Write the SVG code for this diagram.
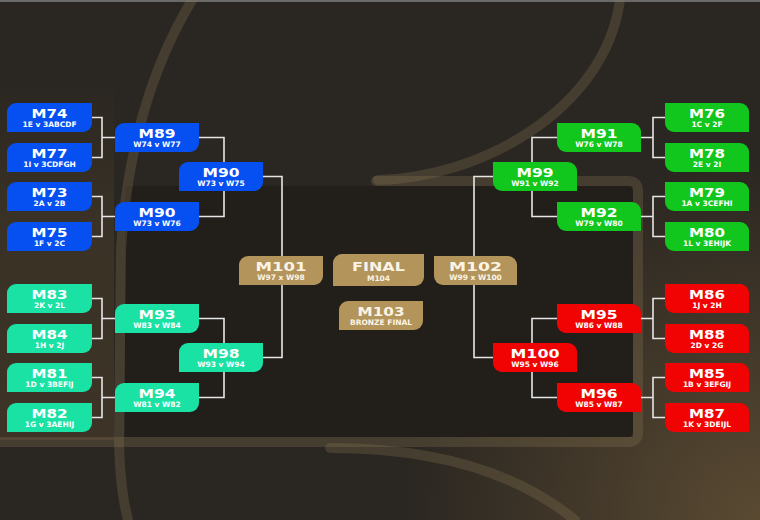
<svg xmlns="http://www.w3.org/2000/svg" width="760" height="520" viewBox="0 0 760 520">
<defs>
<radialGradient id="glowBR" cx="760" cy="520" r="360" gradientUnits="userSpaceOnUse">
<stop offset="0" stop-color="#5a4a32"/>
<stop offset="1" stop-color="#5a4a32" stop-opacity="0"/>
</radialGradient>
<linearGradient id="glowL" x1="0" y1="80" x2="0" y2="440" gradientUnits="userSpaceOnUse">
<stop offset="0" stop-color="#3a3226" stop-opacity="0"/>
<stop offset="0.4" stop-color="#3a3226"/>
<stop offset="1" stop-color="#3d3327"/>
</linearGradient>
<style>
.deco{fill:none;stroke:#8c7a55;stroke-opacity:0.28;stroke-width:10;stroke-linecap:round;stroke-linejoin:round}
.conn path{fill:none;stroke:#e6e6e6;stroke-width:1.6}
.node text{font-family:"DejaVu Sans","Liberation Sans",sans-serif;font-weight:bold;fill:#ffffff;text-anchor:middle}
.t{font-size:11.5px}
.tb{font-size:12.5px}
.s{font-size:7.5px}
.blue path{fill:#0650f2}
.teal path{fill:#19e2a4}
.green path{fill:#11c61d}
.red path{fill:#f20303}
.gold path{fill:#b3945b}
.gold text{fill:#fbf4e6}
</style>
</defs>
<rect width="760" height="520" fill="#2a2621"/>
<rect x="0" y="80" width="114" height="360" fill="url(#glowL)"/>
<rect width="760" height="520" fill="url(#glowBR)"/>
<rect x="125" y="186" width="508" height="251" fill="#221f1b"/>
<rect width="760" height="2" fill="#6a6a6a"/>
<g id="decoration">
<path class="deco" d="M192 0 C162 50 128 130 121 250 L119 440 Q120 490 128 520"/>
<path class="deco" d="M620 0 C605 110 480 178 378 180"/>
<path class="deco" d="M376 181 H628 Q638 181 638 191 V432 Q638 442 628 442 H0"/>
<path class="deco" d="M330 448 C440 448 520 475 575 520"/>
</g>
<g id="connectors" class="conn">
<path d="M92 117.5H102V157.5H92M102 137.5H115"/>
<path d="M92 196.5H102V236.5H92M102 216.5H115"/>
<path d="M199 137.5H224V216.5H199M224 176.5H230"/>
<path d="M263 176.5H282V270"/>
<path d="M92 298.5H102V338.5H92M102 318.5H115"/>
<path d="M92 377.5H102V417.5H92M102 397.5H115"/>
<path d="M199 318.5H224V397.5H199M224 357.5H230"/>
<path d="M263 357.5H282V270"/>
<path d="M665 117.5H653V157.5H665M653 137.5H641"/>
<path d="M665 196.5H653V236.5H665M653 216.5H641"/>
<path d="M557 137.5H532V216.5H557M532 176.5H525"/>
<path d="M493 176.5H474V270"/>
<path d="M665 298.5H653V338.5H665M653 318.5H641"/>
<path d="M665 377.5H653V417.5H665M653 397.5H641"/>
<path d="M557 318.5H532V397.5H557M532 357.5H525"/>
<path d="M493 357.5H474V270"/>
</g>
<g id="m74" class="node blue"><path d="M16 103H92V123A9 9 0 0 1 83 132H7V112A9 9 0 0 1 16 103Z"/><text class="t" x="49.5" y="117.5" textLength="36" lengthAdjust="spacingAndGlyphs">M74</text><text class="s" x="49.5" y="127">1E v 3ABCDF</text></g>
<g id="m77" class="node blue"><path d="M16 143H92V163A9 9 0 0 1 83 172H7V152A9 9 0 0 1 16 143Z"/><text class="t" x="49.5" y="157.5" textLength="36" lengthAdjust="spacingAndGlyphs">M77</text><text class="s" x="49.5" y="167">1I v 3CDFGH</text></g>
<g id="m73" class="node blue"><path d="M16 182H92V202A9 9 0 0 1 83 211H7V191A9 9 0 0 1 16 182Z"/><text class="t" x="49.5" y="196.5" textLength="36" lengthAdjust="spacingAndGlyphs">M73</text><text class="s" x="49.5" y="206">2A v 2B</text></g>
<g id="m75" class="node blue"><path d="M16 222H92V242A9 9 0 0 1 83 251H7V231A9 9 0 0 1 16 222Z"/><text class="t" x="49.5" y="236.5" textLength="36" lengthAdjust="spacingAndGlyphs">M75</text><text class="s" x="49.5" y="246">1F v 2C</text></g>
<g id="m89" class="node blue"><path d="M124 123H199V143A9 9 0 0 1 190 152H115V132A9 9 0 0 1 124 123Z"/><text class="t" x="157" y="137.5" textLength="37" lengthAdjust="spacingAndGlyphs">M89</text><text class="s" x="157" y="147">W74 v W77</text></g>
<g id="m90b" class="node blue"><path d="M124 202H199V222A9 9 0 0 1 190 231H115V211A9 9 0 0 1 124 202Z"/><text class="t" x="157" y="216.5" textLength="37" lengthAdjust="spacingAndGlyphs">M90</text><text class="s" x="157" y="226">W73 v W76</text></g>
<g id="m90" class="node blue"><path d="M188 162H263V182A9 9 0 0 1 254 191H179V171A9 9 0 0 1 188 162Z"/><text class="t" x="221" y="176.5" textLength="37" lengthAdjust="spacingAndGlyphs">M90</text><text class="s" x="221" y="186">W73 v W75</text></g>
<g id="m83" class="node teal"><path d="M16 284H92V304A9 9 0 0 1 83 313H7V293A9 9 0 0 1 16 284Z"/><text class="t" x="49.5" y="298.5" textLength="36" lengthAdjust="spacingAndGlyphs">M83</text><text class="s" x="49.5" y="308">2K v 2L</text></g>
<g id="m84" class="node teal"><path d="M16 324H92V344A9 9 0 0 1 83 353H7V333A9 9 0 0 1 16 324Z"/><text class="t" x="49.5" y="338.5" textLength="36" lengthAdjust="spacingAndGlyphs">M84</text><text class="s" x="49.5" y="348">1H v 2J</text></g>
<g id="m81" class="node teal"><path d="M16 363H92V383A9 9 0 0 1 83 392H7V372A9 9 0 0 1 16 363Z"/><text class="t" x="49.5" y="377.5" textLength="36" lengthAdjust="spacingAndGlyphs">M81</text><text class="s" x="49.5" y="387">1D v 3BEFIJ</text></g>
<g id="m82" class="node teal"><path d="M16 403H92V423A9 9 0 0 1 83 432H7V412A9 9 0 0 1 16 403Z"/><text class="t" x="49.5" y="417.5" textLength="36" lengthAdjust="spacingAndGlyphs">M82</text><text class="s" x="49.5" y="427">1G v 3AEHIJ</text></g>
<g id="m93" class="node teal"><path d="M124 304H199V324A9 9 0 0 1 190 333H115V313A9 9 0 0 1 124 304Z"/><text class="t" x="157" y="318.5" textLength="37" lengthAdjust="spacingAndGlyphs">M93</text><text class="s" x="157" y="328">W83 v W84</text></g>
<g id="m94" class="node teal"><path d="M124 383H199V403A9 9 0 0 1 190 412H115V392A9 9 0 0 1 124 383Z"/><text class="t" x="157" y="397.5" textLength="37" lengthAdjust="spacingAndGlyphs">M94</text><text class="s" x="157" y="407">W81 v W82</text></g>
<g id="m98" class="node teal"><path d="M188 343H263V363A9 9 0 0 1 254 372H179V352A9 9 0 0 1 188 343Z"/><text class="t" x="221" y="357.5" textLength="37" lengthAdjust="spacingAndGlyphs">M98</text><text class="s" x="221" y="367">W93 v W94</text></g>
<g id="m76" class="node green"><path d="M665 103H740A9 9 0 0 1 749 112V132H674A9 9 0 0 1 665 123Z"/><text class="t" x="707" y="117.5" textLength="36" lengthAdjust="spacingAndGlyphs">M76</text><text class="s" x="707" y="127">1C v 2F</text></g>
<g id="m78" class="node green"><path d="M665 143H740A9 9 0 0 1 749 152V172H674A9 9 0 0 1 665 163Z"/><text class="t" x="707" y="157.5" textLength="36" lengthAdjust="spacingAndGlyphs">M78</text><text class="s" x="707" y="167">2E v 2I</text></g>
<g id="m79" class="node green"><path d="M665 182H740A9 9 0 0 1 749 191V211H674A9 9 0 0 1 665 202Z"/><text class="t" x="707" y="196.5" textLength="36" lengthAdjust="spacingAndGlyphs">M79</text><text class="s" x="707" y="206">1A v 3CEFHI</text></g>
<g id="m80" class="node green"><path d="M665 222H740A9 9 0 0 1 749 231V251H674A9 9 0 0 1 665 242Z"/><text class="t" x="707" y="236.5" textLength="36" lengthAdjust="spacingAndGlyphs">M80</text><text class="s" x="707" y="246">1L v 3EHIJK</text></g>
<g id="m91" class="node green"><path d="M557 123H632A9 9 0 0 1 641 132V152H566A9 9 0 0 1 557 143Z"/><text class="t" x="599" y="137.5" textLength="37" lengthAdjust="spacingAndGlyphs">M91</text><text class="s" x="599" y="147">W76 v W78</text></g>
<g id="m92" class="node green"><path d="M557 202H632A9 9 0 0 1 641 211V231H566A9 9 0 0 1 557 222Z"/><text class="t" x="599" y="216.5" textLength="37" lengthAdjust="spacingAndGlyphs">M92</text><text class="s" x="599" y="226">W79 v W80</text></g>
<g id="m99" class="node green"><path d="M493 162H568A9 9 0 0 1 577 171V191H502A9 9 0 0 1 493 182Z"/><text class="t" x="535" y="176.5" textLength="37" lengthAdjust="spacingAndGlyphs">M99</text><text class="s" x="535" y="186">W91 v W92</text></g>
<g id="m86" class="node red"><path d="M665 284H740A9 9 0 0 1 749 293V313H674A9 9 0 0 1 665 304Z"/><text class="t" x="707" y="298.5" textLength="36" lengthAdjust="spacingAndGlyphs">M86</text><text class="s" x="707" y="308">1J v 2H</text></g>
<g id="m88" class="node red"><path d="M665 324H740A9 9 0 0 1 749 333V353H674A9 9 0 0 1 665 344Z"/><text class="t" x="707" y="338.5" textLength="36" lengthAdjust="spacingAndGlyphs">M88</text><text class="s" x="707" y="348">2D v 2G</text></g>
<g id="m85" class="node red"><path d="M665 363H740A9 9 0 0 1 749 372V392H674A9 9 0 0 1 665 383Z"/><text class="t" x="707" y="377.5" textLength="36" lengthAdjust="spacingAndGlyphs">M85</text><text class="s" x="707" y="387">1B v 3EFGIJ</text></g>
<g id="m87" class="node red"><path d="M665 403H740A9 9 0 0 1 749 412V432H674A9 9 0 0 1 665 423Z"/><text class="t" x="707" y="417.5" textLength="36" lengthAdjust="spacingAndGlyphs">M87</text><text class="s" x="707" y="427">1K v 3DEIJL</text></g>
<g id="m95" class="node red"><path d="M557 304H632A9 9 0 0 1 641 313V333H566A9 9 0 0 1 557 324Z"/><text class="t" x="599" y="318.5" textLength="37" lengthAdjust="spacingAndGlyphs">M95</text><text class="s" x="599" y="328">W86 v W88</text></g>
<g id="m96" class="node red"><path d="M557 383H632A9 9 0 0 1 641 392V412H566A9 9 0 0 1 557 403Z"/><text class="t" x="599" y="397.5" textLength="37" lengthAdjust="spacingAndGlyphs">M96</text><text class="s" x="599" y="407">W85 v W87</text></g>
<g id="m100" class="node red"><path d="M493 343H568A9 9 0 0 1 577 352V372H502A9 9 0 0 1 493 363Z"/><text class="t" x="535" y="357.5" textLength="49" lengthAdjust="spacingAndGlyphs">M100</text><text class="s" x="535" y="367">W95 v W96</text></g>
<g id="m101" class="node gold"><path d="M248 256H323V276A9 9 0 0 1 314 285H239V265A9 9 0 0 1 248 256Z"/><text class="tb" x="281" y="271" textLength="51" lengthAdjust="spacingAndGlyphs">M101</text><text class="s" x="281" y="280">W97 x W98</text></g>
<g id="final" class="node gold"><path d="M342 254H424V277A9 9 0 0 1 415 286H333V263A9 9 0 0 1 342 254Z"/><text class="tb" x="378.5" y="271" textLength="53" lengthAdjust="spacingAndGlyphs">FINAL</text><text class="s" x="378.5" y="281">M104</text></g>
<g id="m102" class="node gold"><path d="M434 256H508A9 9 0 0 1 517 265V285H443A9 9 0 0 1 434 276Z"/><text class="tb" x="475.5" y="271" textLength="53" lengthAdjust="spacingAndGlyphs">M102</text><text class="s" x="475.5" y="280">W99 x W100</text></g>
<g id="m103" class="node gold"><path d="M348 301H423V321A9 9 0 0 1 414 330H339V310A9 9 0 0 1 348 301Z"/><text class="tb" x="381" y="315.5" textLength="47" lengthAdjust="spacingAndGlyphs">M103</text><text class="s" x="381" y="325">BRONZE FINAL</text></g>
</svg>
